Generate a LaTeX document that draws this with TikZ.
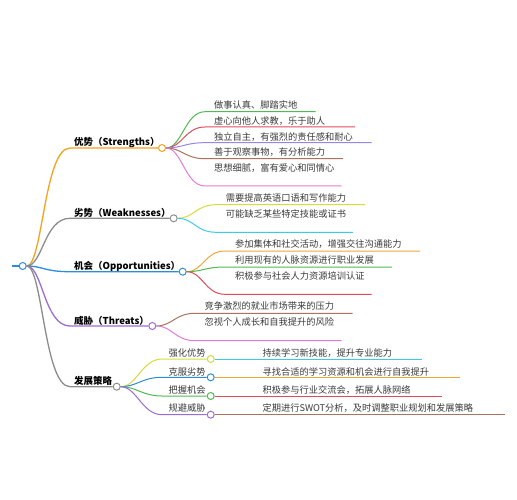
\documentclass[tikz,border=0pt]{standalone}
\usepackage{fontspec}
\newfontfamily\cjk{Noto Sans CJK SC}
\usetikzlibrary{positioning}
\definecolor{mainorange}{HTML}{F5A21E}
\definecolor{maingray}{HTML}{8C8C8C}
\definecolor{mainblue}{HTML}{2D8CD8}
\definecolor{mainpurple}{HTML}{9B6BD6}
\definecolor{leafgreen}{HTML}{52B852}
\definecolor{leafred}{HTML}{E04A5A}
\definecolor{leaflav}{HTML}{9A86E0}
\definecolor{leafbrown}{HTML}{A8735F}
\definecolor{leafpink}{HTML}{E57BD8}
\definecolor{leafyellow}{HTML}{D4DB3A}
\definecolor{leafcyan}{HTML}{3CCBE6}
\definecolor{leaforange}{HTML}{F2A43A}
\definecolor{textgray}{HTML}{3A3A3A}
\tikzset{
  dot/.style={circle, draw=#1, fill=white, line width=1pt, minimum size=7pt, inner sep=0pt},
  topic/.style={font=\cjk\bfseries\fontsize{9.5}{11}\selectfont, text=black, inner sep=0pt, anchor=west},
  leaf/.style={font=\cjk\fontsize{9.25}{11}\selectfont, text=textgray, inner sep=0pt, anchor=west},
  branch/.style={draw=#1, line width=1.3pt},
  twig/.style={draw=#1, line width=1pt}
}
\begin{document}
\begin{tikzpicture}[x=1pt, y=-1pt]
    \useasboundingbox (0,0) rectangle (517,500);
    % Root
    \coordinate (tail) at (12,266);
    \node (root) [dot=mainblue] at (22.7,266) {};
    \draw [branch=mainblue] (tail) -- (root);

    % Topics
    \node (str) [dot=mainorange] at (162,148) {};
    \node (wea) [dot=maingray] at (173.7,218.3) {};
    \node (opp) [dot=mainblue] at (182.7,271.7) {};
    \node (thr) [dot=mainpurple] at (152.3,326) {};
    \node (stg) [dot=maingray] at (116.7,386.7) {};
    \node (strlab) [topic] at (74,142.7) {优势（Strengths）};
    \node (wealab) [topic] at (74,213.3) {劣势（Weaknesses）};
    \node (opplab) [topic] at (74,266.7) {机会（Opportunities）};
    \node (thrlab) [topic] at (74,320.7) {威胁（Threats）};
    \node (stglab) [topic] at (74,380.7) {发展策略};
    \coordinate (strin) at (70,148);
    \coordinate (weain) at (70,218.3);
    \coordinate (oppin) at (70,271.7);
    \coordinate (thrin) at (70,326);
    \coordinate (stgin) at (70,386.7);
    \draw [branch=mainorange] (root) .. controls +(20,0) and +(-26,0) .. (strin) -- (str);
    \draw [branch=maingray] (root) .. controls +(20,0) and +(-26,0) .. (weain) -- (wea);
    \draw [branch=mainblue] (root) .. controls +(20,0) and +(-26,0) .. (oppin) -- (opp);
    \draw [branch=mainpurple] (root) .. controls +(20,0) and +(-26,0) .. (thrin) -- (thr);
    \draw [branch=maingray] (root) .. controls +(20,0) and +(-26,0) .. (stgin) -- (stg);

    % Strengths
    \node (s1) [leaf] at (214,105) {做事认真、脚踏实地};
    \node (s2) [leaf] at (214,121) {虚心向他人求教，乐于助人};
    \node (s3) [leaf] at (214,136.7) {独立自主，有强烈的责任感和耐心};
    \node (s4) [leaf] at (214,152.3) {善于观察事物，有分析能力};
    \node (s5) [leaf] at (214,168.3) {思想细腻，富有爱心和同情心};
    \coordinate (s1a) at (205,111.7); \coordinate (s1b) at (315.7,111.7);
    \coordinate (s2a) at (205,127);   \coordinate (s2b) at (355,127);
    \coordinate (s3a) at (205,142.7); \coordinate (s3b) at (371.7,142.7);
    \coordinate (s4a) at (205,158.7); \coordinate (s4b) at (343,158.7);
    \coordinate (s5a) at (205,186);   \coordinate (s5b) at (341.7,186);
    \draw [twig=leafgreen] (str) .. controls +(20,0) and +(-20,0) .. (s1a) -- (s1b);
    \draw [twig=leafred] (str) .. controls +(20,0) and +(-20,0) .. (s2a) -- (s2b);
    \draw [twig=leaflav] (str) .. controls +(20,0) and +(-20,0) .. (s3a) -- (s3b);
    \draw [twig=leafbrown] (str) .. controls +(20,0) and +(-20,0) .. (s4a) -- (s4b);
    \draw [twig=leafpink] (str) .. controls +(20,0) and +(-20,0) .. (s5a) -- (s5b);

    % Weaknesses
    \node (w1) [leaf] at (225.7,198.3) {需要提高英语口语和写作能力};
    \node (w2) [leaf] at (225.7,214.3) {可能缺乏某些特定技能或证书};
    \coordinate (w1a) at (216,204.7); \coordinate (w1b) at (365,204.7);
    \coordinate (w2a) at (216,232.3); \coordinate (w2b) at (353,232.3);
    \draw [twig=leafyellow] (wea) .. controls +(20,0) and +(-20,0) .. (w1a) -- (w1b);
    \draw [twig=leafcyan] (wea) .. controls +(20,0) and +(-20,0) .. (w2a) -- (w2b);

    % Opportunities
    \node (o1) [leaf] at (235,244.3) {参加集体和社交活动，增强交往沟通能力};
    \node (o2) [leaf] at (235,260.3) {利用现有的人脉资源进行职业发展};
    \node (o3) [leaf] at (235,276) {积极参与社会人力资源培训认证};
    \coordinate (o1a) at (225,251);   \coordinate (o1b) at (420,251);
    \coordinate (o2a) at (225,267);   \coordinate (o2b) at (392,267);
    \coordinate (o3a) at (225,294.3); \coordinate (o3b) at (371.7,294.3);
    \draw [twig=leaforange] (opp) .. controls +(20,0) and +(-20,0) .. (o1a) -- (o1b);
    \draw [twig=leafgreen] (opp) .. controls +(20,0) and +(-20,0) .. (o2a) -- (o2b);
    \draw [twig=leafred] (opp) .. controls +(20,0) and +(-20,0) .. (o3a) -- (o3b);

    % Threats
    \node (t1) [leaf] at (204.3,305.7) {竞争激烈的就业市场带来的压力};
    \node (t2) [leaf] at (204.3,322.3) {忽视个人成长和自我提升的风险};
    \coordinate (t1a) at (195,313.3); \coordinate (t1b) at (352.7,313.3);
    \coordinate (t2a) at (195,340.7); \coordinate (t2b) at (341.7,340.7);
    \draw [twig=leafbrown] (thr) .. controls +(20,0) and +(-20,0) .. (t1a) -- (t1b);
    \draw [twig=leafpink] (thr) .. controls +(20,0) and +(-20,0) .. (t2a) -- (t2b);

    % Strategy
    \node (g1) [dot=leafyellow] at (210.7,359) {};
    \node (g2) [dot=mainblue] at (210.7,377.3) {};
    \node (g3) [dot=leafgreen] at (210.7,396) {};
    \node (g4) [dot=mainpurple] at (210.7,414.7) {};
    \node (g1lab) [leaf] at (168.3,353.3) {强化优势};
    \node (g2lab) [leaf] at (168.3,371.7) {克服劣势};
    \node (g3lab) [leaf] at (168.3,390) {把握机会};
    \node (g4lab) [leaf] at (168.3,408.3) {规避威胁};
    \coordinate (g1a) at (162,359);   \coordinate (g2a) at (162,377.3);
    \coordinate (g3a) at (162,396);   \coordinate (g4a) at (162,414.7);
    \draw [twig=leafyellow] (stg) .. controls +(20,0) and +(-20,0) .. (g1a) -- (g1);
    \draw [twig=mainblue] (stg) .. controls +(20,0) and +(-20,0) .. (g2a) -- (g2);
    \draw [twig=leafgreen] (stg) .. controls +(20,0) and +(-20,0) .. (g3a) -- (g3);
    \draw [twig=mainpurple] (stg) .. controls +(20,0) and +(-20,0) .. (g4a) -- (g4);
    \node (h1) [leaf] at (262.3,353.3) {持续学习新技能，提升专业能力};
    \node (h2) [leaf] at (262.3,371.7) {寻找合适的学习资源和机会进行自我提升};
    \node (h3) [leaf] at (262.3,390) {积极参与行业交流会，拓展人脉网络};
    \node (h4) [leaf] at (262.3,408.3) {定期进行SWOT分析，及时调整职业规划和发展策略};
    \coordinate (h1b) at (421.7,359); \coordinate (h2b) at (460,377.3);
    \coordinate (h3b) at (441.7,396); \coordinate (h4b) at (505,414.7);
    \draw [twig=leafcyan] (g1) -- (h1b);
    \draw [twig=leaforange] (g2) -- (h2b);
    \draw [twig=leafred] (g3) -- (h3b);
    \draw [twig=leafbrown] (g4) -- (h4b);
\end{tikzpicture}
\end{document}
